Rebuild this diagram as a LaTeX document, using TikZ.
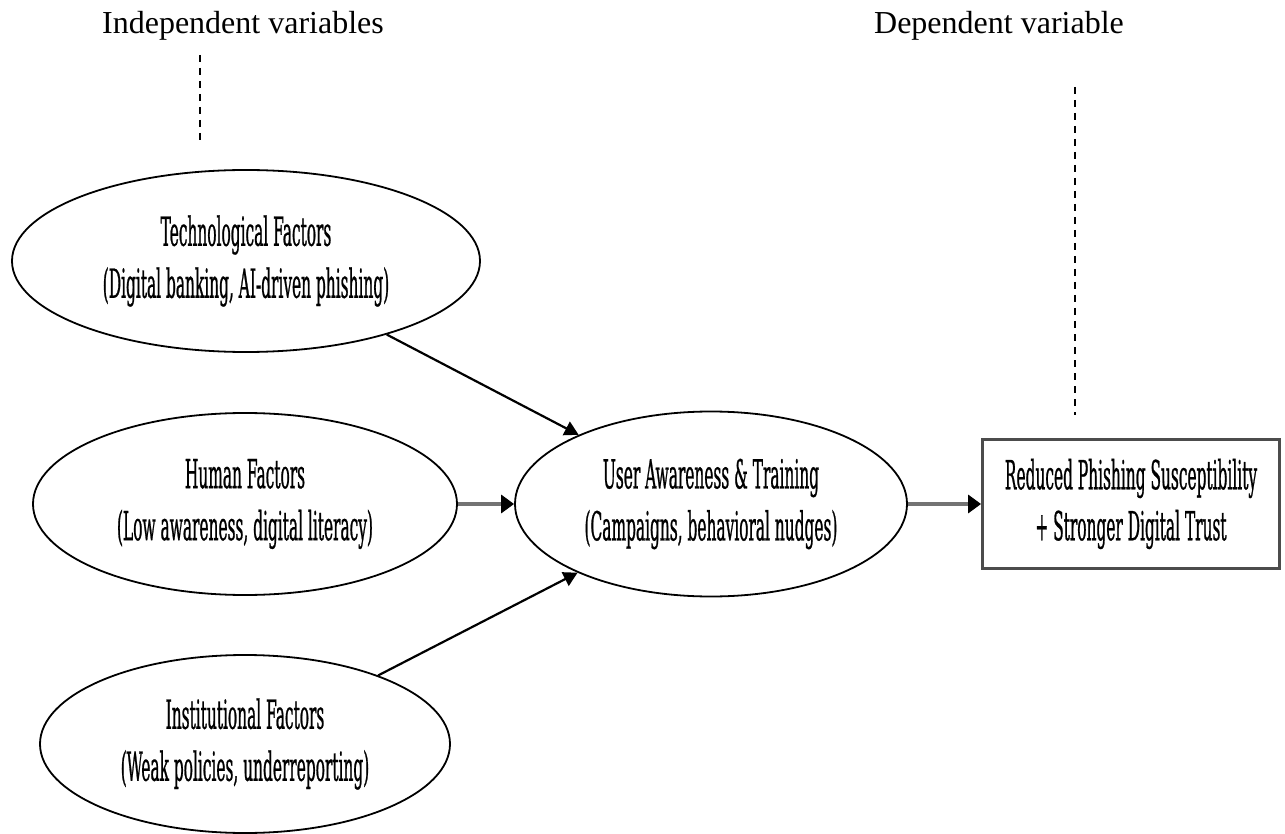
\documentclass[tikz,border=0pt]{standalone}
\usepackage{fontspec}
\setmainfont{Liberation Serif}
\newfontfamily\nodefont[FakeStretch=0.385,FakeBold=0.6]{DejaVu Serif}
\usetikzlibrary{shapes.geometric,arrows.meta}
\tikzset{
  factor/.style={ellipse, draw=black, line width=1.8pt, inner sep=0pt, align=center,
     font=\nodefont\fontsize{40}{52}\selectfont},
  outbox/.style={rectangle, draw=black!70, line width=2.8pt, inner sep=0pt, align=center,
     minimum width=297pt, minimum height=129pt, font=\nodefont\fontsize{40}{51}\selectfont},
  heading/.style={font=\fontsize{32}{36}\selectfont, inner sep=0pt},
  diagarrow/.style={draw=black, line width=2.2pt, -{Triangle[length=14pt,width=15pt]}},
  flatarrow/.style={draw=black!55, line width=4.5pt, -{Triangle[length=13pt,width=18pt,color=black]}},
  guide/.style={draw=black, line width=1.6pt, dash pattern=on 7pt off 6pt}
}
\begin{document}
\begin{tikzpicture}[x=1pt,y=-1pt]
\useasboundingbox (0,0) rectangle (1285,834);
\node[heading] (indep) at (243,26) {Independent variables};
\node[heading] (dep) at (999,26) {Dependent variable};
\coordinate (ia) at (200,55);
\coordinate (ib) at (200,146);
\coordinate (da) at (1075,87);
\coordinate (db) at (1075,415);
\draw[guide] (ia) -- (ib);
\draw[guide] (da) -- (db);

\node[factor, minimum width=468pt, minimum height=182pt] (tech) at (246,261)
  {Technological Factors\\(Digital banking, AI-driven phishing)};
\node[factor, minimum width=424pt, minimum height=182pt] (human) at (245,504)
  {Human Factors\\(Low awareness, digital literacy)};
\node[factor, minimum width=410pt, minimum height=178pt] (inst) at (245,744)
  {Institutional Factors\\(Weak policies, underreporting)};
\node[factor, minimum width=392pt, minimum height=185pt] (user) at (711,504)
  {User Awareness \& Training\\(Campaigns, behavioral nudges)};
\node[outbox] (out) at (1131,504)
  {Reduced Phishing Susceptibility\\+ Stronger Digital Trust};

\draw[diagarrow] (tech) -- (user);
\draw[diagarrow] (inst) -- (user);
\draw[flatarrow] (human) -- (user);
\draw[flatarrow] (user) -- (out);
\end{tikzpicture}
\end{document}
